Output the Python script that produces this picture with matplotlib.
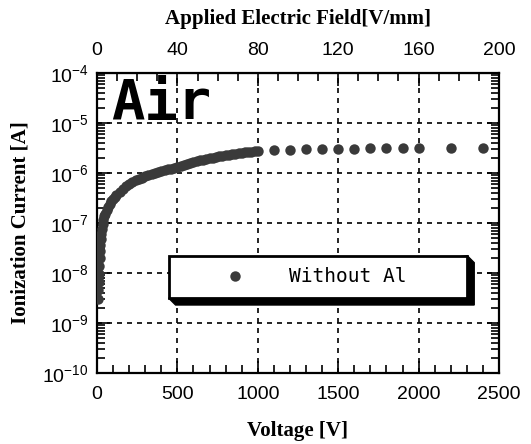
import matplotlib
matplotlib.use("Agg")
import matplotlib.pyplot as plt
from matplotlib.patches import Polygon
from matplotlib.ticker import FixedLocator, LogLocator, MultipleLocator, NullFormatter

plt.rcParams.update({'font.family': 'Liberation Sans', 'font.size': 14,
                     'mathtext.fontset': 'custom', 'mathtext.rm': 'Liberation Sans'})

# Voltage [V] and ionization current [A]
voltage = [5, 8, 10, 12, 14, 16, 18, 20, 23, 26, 30, 35, 40, 45, 50, 60, 70, 80, 90,
           100, 110, 120, 140, 160, 180, 200, 220, 240, 260, 280, 300, 320, 340, 360,
           380, 400, 420, 440, 460, 480, 500, 520, 540, 560, 580, 600, 620, 640, 660,
           680, 700, 720, 740, 760, 780, 800, 820, 840, 860, 880, 900, 920, 940, 960,
           980, 1000, 1100, 1200, 1300, 1400, 1500, 1600, 1700, 1800, 1900, 2000,
           2200, 2400]
current = [3.0e-9, 4.5e-9, 6.5e-9, 9.5e-9, 1.4e-8, 2.0e-8, 2.8e-8, 3.6e-8, 4.8e-8,
           6.0e-8, 7.5e-8, 9.5e-8, 1.15e-7, 1.35e-7, 1.5e-7, 1.8e-7, 2.1e-7, 2.4e-7,
           2.7e-7, 3.0e-7, 3.3e-7, 3.6e-7, 4.2e-7, 4.8e-7, 5.4e-7, 6.0e-7, 6.6e-7,
           7.1e-7, 7.6e-7, 8.1e-7, 8.6e-7, 9.1e-7, 9.6e-7, 1.01e-6, 1.06e-6, 1.11e-6,
           1.15e-6, 1.19e-6, 1.23e-6, 1.27e-6, 1.32e-6, 1.39e-6, 1.46e-6, 1.53e-6,
           1.6e-6, 1.67e-6, 1.73e-6, 1.79e-6, 1.85e-6, 1.91e-6, 1.97e-6, 2.03e-6,
           2.09e-6, 2.15e-6, 2.21e-6, 2.27e-6, 2.33e-6, 2.38e-6, 2.43e-6, 2.48e-6,
           2.53e-6, 2.58e-6, 2.63e-6, 2.68e-6, 2.73e-6, 2.8e-6, 2.9e-6, 2.95e-6,
           3.0e-6, 3.0e-6, 3.05e-6, 3.05e-6, 3.1e-6, 3.15e-6, 3.15e-6, 3.2e-6,
           3.2e-6, 3.1e-6]
gap_mm = 12.5  # 2500 V <-> 200 V/mm

fig = plt.figure(figsize=(5.31, 4.44), dpi=100)
ax = fig.add_axes([0.1827, 0.1599, 0.757, 0.6757])

ax.plot(voltage, current, 'o', color='#3a3a3a', markersize=7.5, markeredgewidth=0,
        label='Without Al', zorder=3)

ax.set_xscale('linear')
ax.set_yscale('log')
ax.set_xlim(0, 2500)
ax.set_ylim(1e-10, 1e-4)

ax.xaxis.set_major_locator(MultipleLocator(500))
ax.xaxis.set_minor_locator(MultipleLocator(100))
ax.yaxis.set_major_locator(LogLocator(base=10, numticks=10))
ax.yaxis.set_minor_locator(LogLocator(base=10, subs=range(2, 10), numticks=20))
ax.yaxis.set_minor_formatter(NullFormatter())
ax.tick_params(which='both', direction='in', right=True, width=1.2, colors='black')
ax.tick_params(which='major', length=9, labelsize=14)
ax.tick_params(which='minor', length=6)
ax.tick_params(axis='x', pad=9)
ax.tick_params(axis='y', pad=6)
for s in ax.spines.values():
    s.set_linewidth(1.6)

ax.grid(True, which='major', color='black', linestyle=(0, (3, 3)), linewidth=1.2)

top = ax.secondary_xaxis('top', functions=(lambda v: v / gap_mm, lambda e: e * gap_mm))
top.xaxis.set_major_locator(FixedLocator([0, 40, 80, 120, 160, 200]))
top.xaxis.set_minor_locator(MultipleLocator(10))
top.tick_params(which='both', direction='in', width=1.2, labelsize=14, pad=10)
top.tick_params(which='major', length=9)
top.tick_params(which='minor', length=6)
top.set_xlabel('Applied Electric Field[V/mm]', family='Liberation Serif',
               fontweight='bold', fontsize=15, labelpad=13)

ax.set_xlabel('Voltage [V]', family='Liberation Serif', fontweight='bold', fontsize=15,
              labelpad=13)
ax.set_ylabel('Ionization Current [A]', family='Liberation Serif', fontweight='bold',
              fontsize=15)
ax.yaxis.set_label_coords(-0.165, 0.5)

ax.text(0.035, 0.985, 'Air', transform=ax.transAxes, family='DejaVu Sans Mono',
        fontweight='bold', fontsize=40, va='top', ha='left')

leg = ax.legend(loc='lower left', bbox_to_anchor=(0.178, 0.25, 0.743, 0.16), mode='expand',
                prop={'family': 'DejaVu Sans Mono', 'size': 14}, borderpad=0.6,
                handlelength=5.6, handletextpad=0.0, borderaxespad=0, fancybox=False,
                framealpha=1, edgecolor='black')
leg.get_frame().set_linewidth(2)
leg.set_zorder(5)

# bevelled black shadow like the original legend box
fig.canvas.draw()
bb = leg.get_window_extent()
d = 7
shadow = Polygon([(bb.x0, bb.y0), (bb.x0 + d, bb.y0 - d), (bb.x1 + d, bb.y0 - d),
                  (bb.x1 + d, bb.y1 - d), (bb.x1, bb.y1)], closed=True,
                 transform=None, facecolor='black', edgecolor='black', zorder=4)
ax.add_artist(shadow)

plt.savefig('out.png', dpi=100)
